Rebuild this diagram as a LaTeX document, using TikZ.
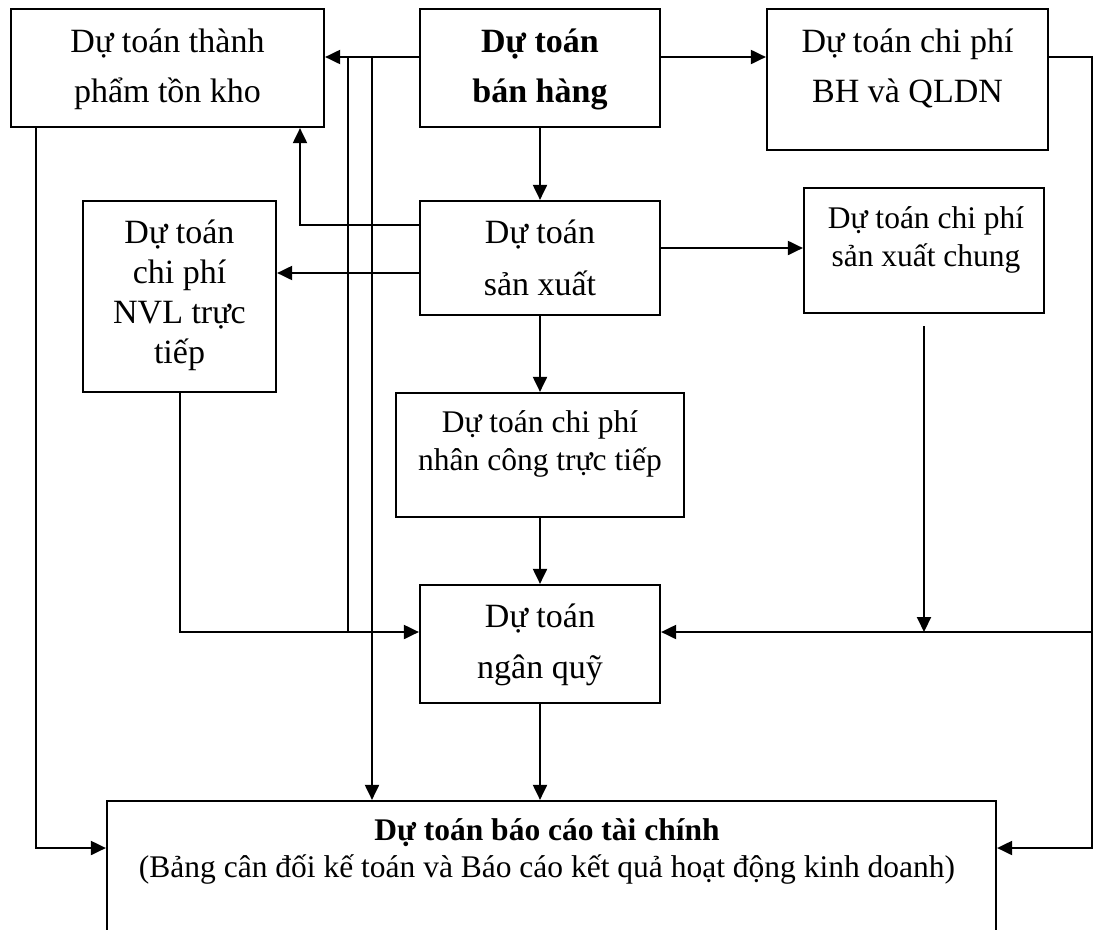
\documentclass[tikz,border=0pt]{standalone}
\usepackage{fontspec}
\setmainfont{Liberation Serif}
\usetikzlibrary{arrows.meta}
\newcommand{\boxlines}[1]{\begin{tabular}[t]{@{}c@{}}#1\end{tabular}}
\begin{document}
\begin{tikzpicture}[x=1pt,y=-1pt,
  box/.style={draw, line width=2.2pt, inner sep=0pt},
  label/.style={anchor=base, inner sep=0pt},
  big/.style={font=\fontsize{34}{#1}\selectfont},
  small/.style={font=\fontsize{31.5}{#1}\selectfont},
  conn/.style={line width=2pt},
  arr/.style={line width=2pt, -{Triangle[length=15pt,width=14pt]}}]
\useasboundingbox (0,0) rectangle (1099,929);
\clip (0,0) rectangle (1099,929);

% boxes
\node[box, minimum width=313pt, minimum height=118pt] (tp)   at (167.5,68)  {};
\node[box, minimum width=240pt, minimum height=118pt] (bh)   at (540,68)    {};
\node[box, minimum width=281pt, minimum height=141pt] (qldn) at (907.5,79.5){};
\node[box, minimum width=240pt, minimum height=114pt] (sx)   at (540,258)   {};
\node[box, minimum width=193pt, minimum height=191pt] (nvl)  at (179.5,296.5){};
\node[box, minimum width=240pt, minimum height=125pt] (sxc)  at (924,250.5) {};
\node[box, minimum width=288pt, minimum height=124pt] (nc)   at (540,455)   {};
\node[box, minimum width=240pt, minimum height=118pt] (nq)   at (540,644)   {};
\node[box, minimum width=889pt, minimum height=180pt] (bctc) at (551.5,891)  {};

% texts
\node[label, big=50] (tp-t) at (167.5,52) {\boxlines{Dự toán thành\\phẩm tồn kho}};
\node[label, big=50] (bh-t) at (540,52) {\boxlines{\bfseries Dự toán\\\bfseries bán hàng}};
\node[label, big=50] (qldn-t) at (907.5,52) {\boxlines{Dự toán chi phí\\BH và QLDN}};
\node[label, big=52] (sx-t) at (540,243) {\boxlines{Dự toán\\sản xuất}};
\node[label, big=40] (nvl-t) at (179.5,243) {\boxlines{Dự toán\\chi phí\\NVL trực\\tiếp}};
\node[label, small=38] (sxc-t) at (926,228) {\boxlines{Dự toán chi phí\\sản xuất chung}};
\node[label, small=38] (nc-t) at (540,432) {\boxlines{Dự toán chi phí\\nhân công trực tiếp}};
\node[label, big=51] (nq-t) at (540,627) {\boxlines{Dự toán\\ngân quỹ}};
\node[label, small=37] (bctc-t) at (547,840) {\boxlines{\bfseries Dự toán báo cáo tài chính\\(Bảng cân đối kế toán và Báo cáo kết quả hoạt động kinh doanh)}};

% rows and columns of the connector grid
\coordinate (yTop) at (0,57);
\coordinate (yTP)  at (0,225);
\coordinate (ySXC) at (0,248);
\coordinate (yNVL) at (0,273);
\coordinate (yQ)   at (0,632);
\coordinate (yF)   at (0,848);
\coordinate (xL)   at (36,0);
\coordinate (xC)   at (300,0);
\coordinate (xA)   at (348,0);
\coordinate (xB)   at (372,0);
\coordinate (xR)   at (1092,0);

% connectors
\draw[arr] (bh.south) -- (sx.north);
\draw[arr] (bh.west |- yTop) -- (tp.east |- yTop);
\draw[arr] (bh.east |- yTop) -- (qldn.west |- yTop);
\draw[conn] (xA |- yTop) -- (xA |- yQ);
\draw[arr] (xB |- yTop) -- (xB |- bctc.north);
\draw[arr] (sx.west |- yTP) -| (xC |- tp.south);
\draw[arr] (sx.west |- yNVL) -- (nvl.east |- yNVL);
\draw[arr] (sx.east |- ySXC) -- (sxc.west |- ySXC);
\draw[arr] (sx.south) -- (nc.north);
\draw[arr] (nc.south) -- (nq.north);
\draw[arr] (nq.south) -- (nq.south |- bctc.north);
\draw[arr] (nvl.south) |- (nq.west |- yQ);
\draw[arr] ([yshift=-12pt]sxc.south) -- (sxc.south |- yQ);
\draw[arr] (xR |- yQ) -- (nq.east |- yQ);
\draw[arr] (qldn.east |- yTop) -| (xR |- yF) -- (bctc.east |- yF);
\draw[arr] (xL |- tp.south) |- (bctc.west |- yF);
\end{tikzpicture}
\end{document}
